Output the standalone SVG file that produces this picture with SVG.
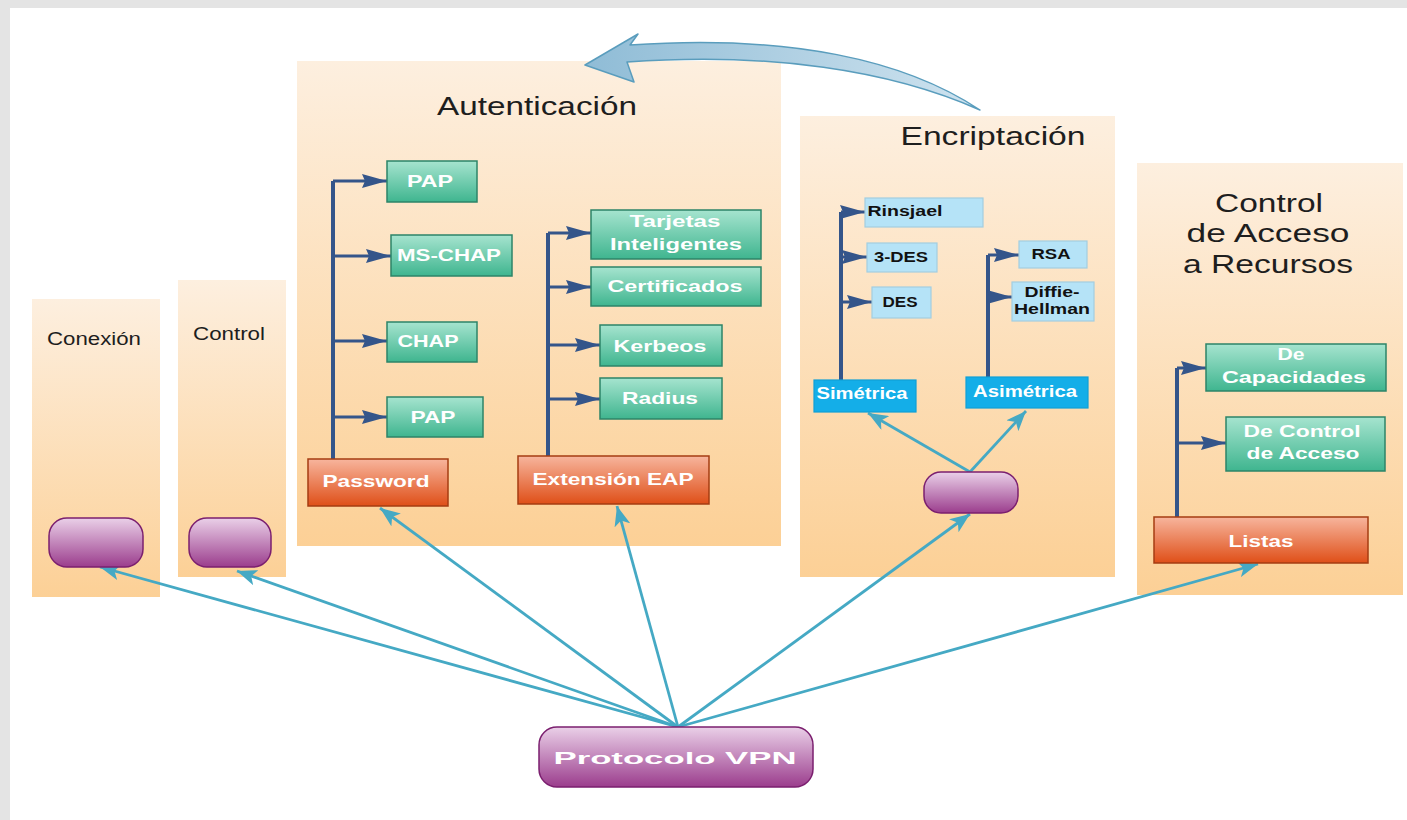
<svg xmlns="http://www.w3.org/2000/svg" width="1407" height="820" viewBox="0 0 1407 820">
<defs>
<linearGradient id="gPanel" x1="0" y1="0" x2="0" y2="1"><stop offset="0" stop-color="#fdefdf"/><stop offset="1" stop-color="#fcd096"/></linearGradient>
<linearGradient id="gGreen" x1="0" y1="0" x2="0" y2="1"><stop offset="0" stop-color="#a6e4cf"/><stop offset="1" stop-color="#3fb58f"/></linearGradient>
<linearGradient id="gRed" x1="0" y1="0" x2="0" y2="1"><stop offset="0" stop-color="#f7b59d"/><stop offset="1" stop-color="#df4f18"/></linearGradient>
<linearGradient id="gPurple" x1="0" y1="0" x2="0" y2="1"><stop offset="0" stop-color="#ead0e8"/><stop offset="1" stop-color="#9b3d8d"/></linearGradient>
<linearGradient id="gCurve" x1="0" y1="0" x2="1" y2="0"><stop offset="0" stop-color="#8fbcd6"/><stop offset="1" stop-color="#cfe3ef"/></linearGradient>
<marker id="aTeal" markerUnits="userSpaceOnUse" markerWidth="22" markerHeight="16" refX="20" refY="8" orient="auto"><path d="M0,0 L20,8 L0,16 L5,8 z" fill="#45a9c4"/></marker>
<marker id="aBlue" markerUnits="userSpaceOnUse" markerWidth="26" markerHeight="16" refX="25" refY="8" orient="auto"><path d="M0,1 L25,8 L0,15 L3,8 z" fill="#34558a"/></marker>
</defs>
<style>
.panel{fill:url(#gPanel)}
.green{fill:url(#gGreen);stroke:#2d8468;stroke-width:1.5}
.red{fill:url(#gRed);stroke:#a53c12;stroke-width:1.5}
.pill{fill:url(#gPurple);stroke:#7b1f6f;stroke-width:1.5}
.lblue{fill:#b5e3f7;stroke:#a3cde0;stroke-width:1.2}
.blue{fill:#14aee8;stroke:#0f9fd6;stroke-width:1.2}
.title{font-family:"Liberation Sans",Arial,sans-serif;fill:#1e1e1e;text-anchor:middle}
.wt{font-family:"Liberation Sans",Arial,sans-serif;font-weight:bold;fill:#ffffff;text-anchor:middle;font-size:17px}
.bt{font-family:"Liberation Sans",Arial,sans-serif;font-weight:bold;fill:#111111;text-anchor:middle;font-size:14px}
.tree line,.tree path{stroke:#34558a;fill:none}
.trunk{stroke-width:4}
.br{stroke-width:3}
.conn line{stroke:#45a9c4;stroke-width:2.8;marker-end:url(#aTeal)}
</style>
<rect x="0" y="0" width="1407" height="820" fill="#ffffff"/>
<rect x="0" y="0" width="1407" height="8" fill="#e4e4e4"/>
<rect x="0" y="0" width="10" height="820" fill="#e4e4e4"/>

<g id="panel-conexion"><rect class="panel" x="32" y="299" width="128" height="298"/>
<text class="title" x="94" y="345" font-size="18" textLength="94" lengthAdjust="spacingAndGlyphs">Conexión</text></g>
<g id="panel-control"><rect class="panel" x="178" y="280" width="108" height="297"/>
<text class="title" x="229" y="340" font-size="18" textLength="72" lengthAdjust="spacingAndGlyphs">Control</text></g>
<g id="panel-autenticacion"><rect class="panel" x="297" y="61" width="484" height="485"/>
<text class="title" x="537" y="115" font-size="25" textLength="200" lengthAdjust="spacingAndGlyphs">Autenticación</text></g>
<g id="panel-encriptacion"><rect class="panel" x="800" y="116" width="315" height="461"/>
<text class="title" x="993" y="145" font-size="25" textLength="185" lengthAdjust="spacingAndGlyphs">Encriptación</text></g>
<g id="panel-control-acceso"><rect class="panel" x="1137" y="163" width="266" height="432"/>
<text class="title" x="1269" y="212" font-size="26" textLength="108" lengthAdjust="spacingAndGlyphs">Control</text>
<text class="title" x="1268" y="242" font-size="26" textLength="163" lengthAdjust="spacingAndGlyphs">de Acceso</text>
<text class="title" x="1268" y="273" font-size="26" textLength="170" lengthAdjust="spacingAndGlyphs">a Recursos</text></g>

<g id="curved-arrow"><path d="M980,110 C905,60 790,34 630,45 L638,34 L585,65 L634,82 L627,62 C770,52 890,70 980,110 Z" fill="url(#gCurve)" stroke="#5a9dbd" stroke-width="1.5" stroke-linejoin="round"/></g>

<g id="tree-lines" class="tree">
<path class="trunk" d="M333,459 L333,181"/>
<line class="br" x1="333" y1="181" x2="387" y2="181" marker-end="url(#aBlue)"/>
<line class="br" x1="333" y1="256" x2="391" y2="256" marker-end="url(#aBlue)"/>
<line class="br" x1="333" y1="341" x2="387" y2="341" marker-end="url(#aBlue)"/>
<line class="br" x1="333" y1="417" x2="387" y2="417" marker-end="url(#aBlue)"/>
<path class="trunk" d="M548,456 L548,233"/>
<line class="br" x1="548" y1="233" x2="591" y2="233" marker-end="url(#aBlue)"/>
<line class="br" x1="548" y1="287" x2="591" y2="287" marker-end="url(#aBlue)"/>
<line class="br" x1="548" y1="345" x2="600" y2="345" marker-end="url(#aBlue)"/>
<line class="br" x1="548" y1="399" x2="600" y2="399" marker-end="url(#aBlue)"/>
<path class="trunk" d="M841,380 L841,212"/>
<line class="br" x1="841" y1="212" x2="865" y2="212" marker-end="url(#aBlue)"/>
<line class="br" x1="841" y1="257" x2="867" y2="257" marker-end="url(#aBlue)"/>
<line class="br" x1="841" y1="302" x2="872" y2="302" marker-end="url(#aBlue)"/>
<path class="trunk" d="M988,392 L988,255"/>
<line class="br" x1="988" y1="255" x2="1019" y2="255" marker-end="url(#aBlue)"/>
<line class="br" x1="988" y1="297" x2="1012" y2="297" marker-end="url(#aBlue)"/>
<path class="trunk" d="M1177,517 L1177,368"/>
<line class="br" x1="1177" y1="368" x2="1206" y2="368" marker-end="url(#aBlue)"/>
<line class="br" x1="1177" y1="443" x2="1226" y2="443" marker-end="url(#aBlue)"/>
</g>

<g id="connectors" class="conn">
<line x1="678" y1="727" x2="100" y2="567"/>
<line x1="678" y1="727" x2="237" y2="571"/>
<line x1="678" y1="727" x2="380" y2="508"/>
<line x1="678" y1="727" x2="617" y2="506"/>
<line x1="678" y1="727" x2="970" y2="514"/>
<line x1="678" y1="727" x2="1258" y2="564"/>
<line x1="970" y1="472" x2="868" y2="413"/>
<line x1="970" y1="472" x2="1026" y2="411"/>
</g>

<g id="pap1"><rect class="green" x="387" y="161" width="90" height="41"/><text class="wt" x="430" y="187" textLength="46" lengthAdjust="spacingAndGlyphs">PAP</text></g>
<g id="ms-chap"><rect class="green" x="391" y="235" width="121" height="41"/><text class="wt" x="449" y="261" textLength="104" lengthAdjust="spacingAndGlyphs">MS-CHAP</text></g>
<g id="chap"><rect class="green" x="387" y="322" width="90" height="40"/><text class="wt" x="428" y="347" textLength="61" lengthAdjust="spacingAndGlyphs">CHAP</text></g>
<g id="pap2"><rect class="green" x="387" y="397" width="96" height="40"/><text class="wt" x="433" y="423" textLength="45" lengthAdjust="spacingAndGlyphs">PAP</text></g>
<g id="password"><rect class="red" x="308" y="459" width="140" height="47"/><text class="wt" x="376" y="487" textLength="107" lengthAdjust="spacingAndGlyphs">Password</text></g>

<g id="tarjetas"><rect class="green" x="591" y="210" width="170" height="49"/><text class="wt" x="675" y="227" textLength="91" lengthAdjust="spacingAndGlyphs">Tarjetas</text><text class="wt" x="676" y="250" textLength="132" lengthAdjust="spacingAndGlyphs">Inteligentes</text></g>
<g id="certificados"><rect class="green" x="591" y="267" width="170" height="39"/><text class="wt" x="675" y="292" textLength="135" lengthAdjust="spacingAndGlyphs">Certificados</text></g>
<g id="kerbeos"><rect class="green" x="600" y="325" width="122" height="41"/><text class="wt" x="660" y="352" textLength="93" lengthAdjust="spacingAndGlyphs">Kerbeos</text></g>
<g id="radius"><rect class="green" x="600" y="378" width="122" height="41"/><text class="wt" x="660" y="404" textLength="76" lengthAdjust="spacingAndGlyphs">Radius</text></g>
<g id="extension-eap"><rect class="red" x="518" y="456" width="191" height="48"/><text class="wt" x="613" y="485" textLength="161" lengthAdjust="spacingAndGlyphs">Extensión EAP</text></g>

<g id="rinsjael"><rect class="lblue" x="865" y="198" width="118" height="29"/><text class="bt" x="905" y="216" textLength="75" lengthAdjust="spacingAndGlyphs">Rinsjael</text></g>
<g id="tdes"><rect class="lblue" x="867" y="243" width="70" height="29"/><text class="bt" x="901" y="262" textLength="54" lengthAdjust="spacingAndGlyphs">3-DES</text></g>
<g id="des"><rect class="lblue" x="872" y="287" width="59" height="31"/><text class="bt" x="900" y="307" textLength="35" lengthAdjust="spacingAndGlyphs">DES</text></g>
<g id="rsa"><rect class="lblue" x="1019" y="241" width="68" height="27"/><text class="bt" x="1051" y="259" textLength="39" lengthAdjust="spacingAndGlyphs">RSA</text></g>
<g id="diffie"><rect class="lblue" x="1012" y="282" width="82" height="39"/><text class="bt" x="1052" y="297" textLength="55" lengthAdjust="spacingAndGlyphs">Diffie-</text><text class="bt" x="1052" y="314" textLength="76" lengthAdjust="spacingAndGlyphs">Hellman</text></g>
<g id="simetrica"><rect class="blue" x="814" y="380" width="102" height="32"/><text class="wt" x="862" y="399" font-size="14" textLength="91" lengthAdjust="spacingAndGlyphs">Simétrica</text></g>
<g id="asimetrica"><rect class="blue" x="966" y="377" width="122" height="31"/><text class="wt" x="1025" y="397" font-size="14" textLength="104" lengthAdjust="spacingAndGlyphs">Asimétrica</text></g>

<g id="de-capacidades"><rect class="green" x="1206" y="344" width="180" height="47"/><text class="wt" x="1291" y="360" textLength="27" lengthAdjust="spacingAndGlyphs">De</text><text class="wt" x="1294" y="383" textLength="144" lengthAdjust="spacingAndGlyphs">Capacidades</text></g>
<g id="de-control-acceso"><rect class="green" x="1226" y="417" width="159" height="54"/><text class="wt" x="1302" y="437" textLength="117" lengthAdjust="spacingAndGlyphs">De Control</text><text class="wt" x="1303" y="459" textLength="113" lengthAdjust="spacingAndGlyphs">de Acceso</text></g>
<g id="listas"><rect class="red" x="1154" y="517" width="214" height="46"/><text class="wt" x="1261" y="547" textLength="65" lengthAdjust="spacingAndGlyphs">Listas</text></g>

<g id="pill-conexion"><rect class="pill" x="49" y="518" width="94" height="49" rx="18"/></g>
<g id="pill-control"><rect class="pill" x="189" y="518" width="82" height="49" rx="18"/></g>
<g id="pill-encriptacion"><rect class="pill" x="924" y="472" width="94" height="41" rx="17"/></g>
<g id="protocolo-vpn"><rect class="pill" x="539" y="727" width="274" height="60" rx="18"/><text class="wt" x="675" y="764" font-size="29" textLength="243" lengthAdjust="spacingAndGlyphs">Protocolo VPN</text></g>
</svg>
